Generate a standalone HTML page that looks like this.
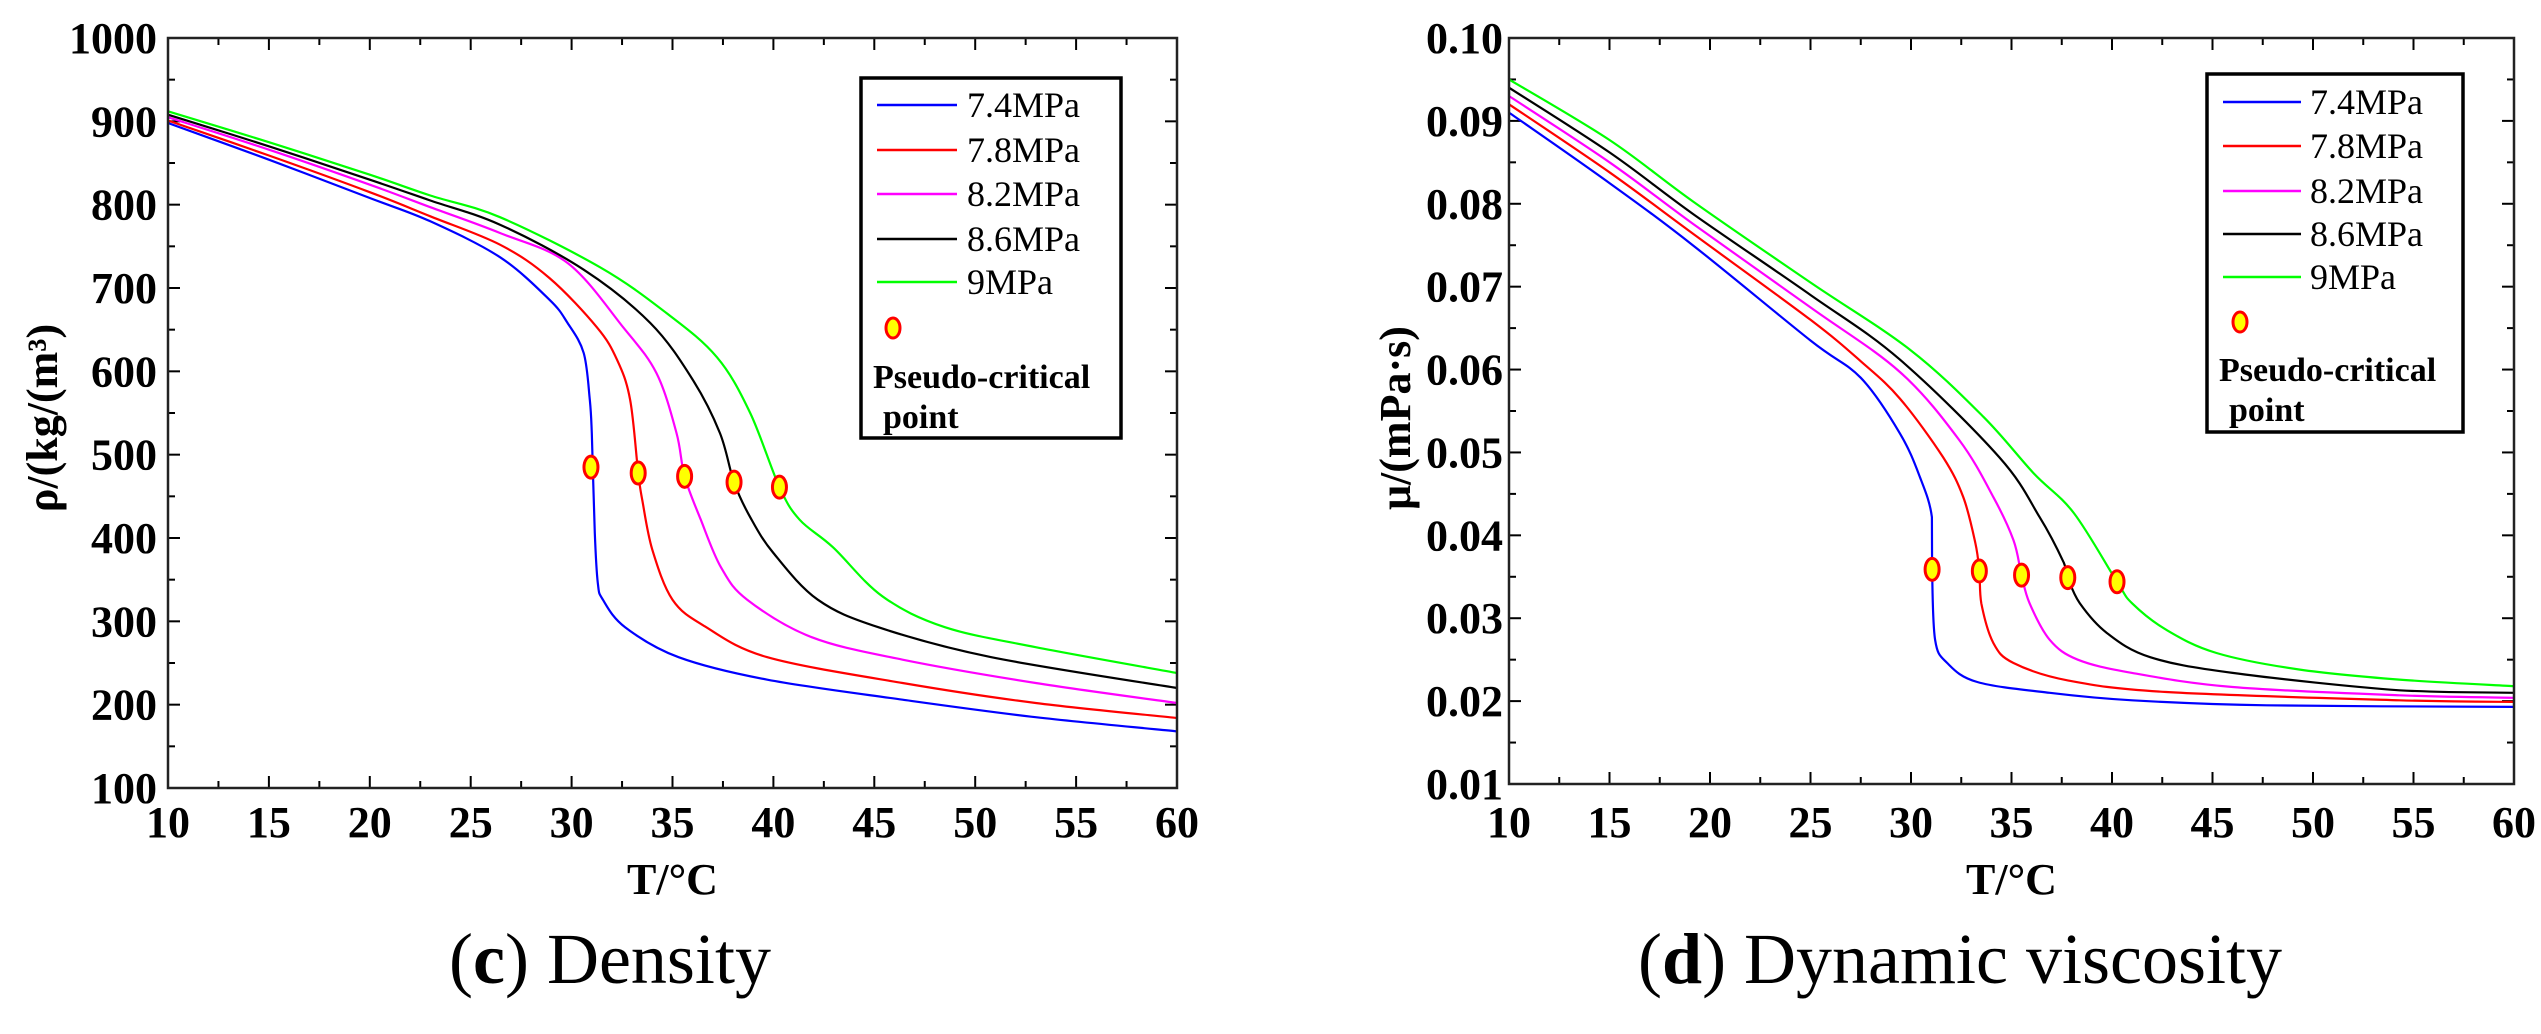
<!DOCTYPE html>
<html>
<head>
<meta charset="utf-8">
<style>
  html,body{margin:0;padding:0;background:#fff;}
  svg{display:block;}
  text{font-family:"Liberation Serif","DejaVu Serif",serif;fill:#000;}
</style>
</head>
<body>
<svg id="fig" width="2541" height="1034" viewBox="0 0 2541 1034" xmlns="http://www.w3.org/2000/svg">
  <rect x="0" y="0" width="2541" height="1034" fill="#fff"/>
  <g id="chartC"></g>
  <g id="chartD"></g>
  <text x="610" y="983" font-size="72" text-anchor="middle">(<tspan font-weight="bold">c</tspan>) Density</text>
  <text x="1960" y="983" font-size="72" text-anchor="middle">(<tspan font-weight="bold">d</tspan>) Dynamic viscosity</text>
</svg>
<script>
// ---------- Data: density chart (c) ----------
const seriesLabels = ["7.4MPa","7.8MPa","8.2MPa","8.6MPa","9MPa"];
const seriesColors = ["#0000ff","#ff0000","#ff00ff","#000000","#00ff00"];

const rhoT_74 = [10,15,20,23,26.45,28.9,29.8,30.6,30.9,31.0,31.15,31.3,31.55,32.65,35.3,39.7,46.4,53,60];
const rhoV_74 = [898,854,808,780,737,686,658,622,566,526,406,346,326,293,257,230,206,185,168];
const rhoT_78 = [10,15,20,23,26.45,28.9,31.25,32.25,32.9,33.3,33.5,34.0,35.0,36.6,39.7,46.4,53,60];
const rhoV_78 = [901,859,815,786,752,712,653,614,566,478,446,386,326,294,257,226,202,184];
const rhoT_82 = [10,15,20,23,26.45,29.8,32.55,34.2,35.2,35.6,36.4,37.4,38.7,41.9,46.4,53,60];
const rhoV_82 = [905,866,824,797,766,730,653,598,526,474,422,365,326,281,254,226,202];
const rhoT_86 = [10,15,20,23,26.45,30.6,33.9,36.0,37.35,38.05,38.85,40.0,42.2,45.2,50.8,60];
const rhoV_86 = [908,870,830,805,776,722,658,590,526,467,425,382,326,293,257,220];
const rhoT_90 = [10,15,20,23,26.45,31.4,34.7,37.2,38.85,40.3,41.3,42.95,45.4,48.5,53,60];
const rhoV_90 = [912,875,836,811,785,725,670,617,550,461,422,389,330,293,269,238];
const rhoPcT = [30.96,33.3,35.6,38.05,40.3];
const rhoPcV = [485,478,474,467,461];
const rhoYTicks = [100,200,300,400,500,600,700,800,900,1000];
const xTicks = [10,15,20,25,30,35,40,45,50,55,60];

// ---------- Data: viscosity chart (d) ----------
const muT_74 = [10,15,19.2,25,27.5,29.45,30.45,31.04,31.05,31.2,31.8,33.3,36.9,41,47.7,60];
const muV_74 = [0.091,0.0825,0.0749,0.0635,0.059,0.0523,0.047,0.0422,0.0359,0.0274,0.0246,0.0223,0.021,0.0201,0.0195,0.0193];
const muT_78 = [10,15,19.2,25,27.5,29.45,31.6,32.6,33.2,33.4,33.5,34.1,35.1,37.8,42.7,54.3,60];
const muV_78 = [0.092,0.0838,0.0763,0.066,0.061,0.0565,0.0494,0.0446,0.0391,0.0357,0.0318,0.027,0.0246,0.0225,0.0211,0.0201,0.0199];
const muT_82 = [10,15,19.2,25,29.45,32.4,34.1,35.1,35.5,35.9,36.9,38.3,41,46,54.3,60];
const muV_82 = [0.093,0.085,0.0775,0.0675,0.0597,0.0515,0.0446,0.0394,0.0352,0.0318,0.0274,0.025,0.0234,0.0217,0.0207,0.0204];
const muT_86 = [10,15,19.2,25,29.45,34.4,36.4,37.6,37.8,38.4,39.75,41.9,46,54.3,60];
const muV_86 = [0.094,0.0862,0.0787,0.069,0.0612,0.0494,0.0422,0.0367,0.0349,0.0318,0.0282,0.0253,0.0234,0.0213,0.021];
const muT_90 = [10,15,19.2,25,29.95,33.6,36.1,38.1,40.25,41,42.7,45.2,49.35,54.3,60];
const muV_90 = [0.095,0.0877,0.0802,0.0705,0.0624,0.0543,0.0475,0.0427,0.0344,0.0318,0.0286,0.0258,0.0238,0.0226,0.0218];
const muPcT = [31.05,33.4,35.5,37.8,40.25];
const muPcV = [0.0359,0.0357,0.0352,0.0349,0.0344];
const muYTicks = [0.01,0.02,0.03,0.04,0.05,0.06,0.07,0.08,0.09,0.10];

const NS = "http://www.w3.org/2000/svg";
function mk(tag, attrs, parent){
  const e = document.createElementNS(NS, tag);
  for (const k in attrs) e.setAttribute(k, attrs[k]);
  parent.appendChild(e);
  return e;
}
function clamp(v, a, b){ const lo = Math.min(a,b), hi = Math.max(a,b); return Math.max(lo, Math.min(hi, v)); }
function smoothPath(P){
  let d = "M" + P[0][0].toFixed(1) + "," + P[0][1].toFixed(1);
  for (let i = 0; i < P.length - 1; i++) {
    const p0 = P[Math.max(0, i-1)], p1 = P[i], p2 = P[i+1], p3 = P[Math.min(P.length-1, i+2)];
    let c1x = p1[0] + (p2[0]-p0[0])/6, c1y = p1[1] + (p2[1]-p0[1])/6;
    let c2x = p2[0] - (p3[0]-p1[0])/6, c2y = p2[1] - (p3[1]-p1[1])/6;
    c1x = clamp(c1x, p1[0], p2[0]); c2x = clamp(c2x, p1[0], p2[0]);
    c1y = clamp(c1y, p1[1], p2[1]); c2y = clamp(c2y, p1[1], p2[1]);
    d += "C" + c1x.toFixed(1) + "," + c1y.toFixed(1) + " " + c2x.toFixed(1) + "," + c2y.toFixed(1) + " " + p2[0].toFixed(1) + "," + p2[1].toFixed(1);
  }
  return d;
}

function drawChart(cfg){
  const g = document.getElementById(cfg.id);
  const X = t => cfg.x0 + (t - 10) / 50 * (cfg.x1 - cfg.x0);
  const Y = v => cfg.yb - (v - cfg.vmin) / (cfg.vmax - cfg.vmin) * (cfg.yb - cfg.yt);

  for (let i = 0; i < xTicks.length; i++) {
    const t = xTicks[i];
    const x = X(t);
    const tb = mk("line", {x1:x, y1:cfg.yb, x2:x, y2:cfg.yb-12, stroke:"#000", "stroke-width":2}, g);
    
    
    const tt = mk("line", {x1:x, y1:cfg.yt, x2:x, y2:cfg.yt+12, stroke:"#000", "stroke-width":2}, g);
    
    
    if (i < xTicks.length - 1) {
      const xm = X(t + 2.5);
      const mb = mk("line", {x1:xm, y1:cfg.yb, x2:xm, y2:cfg.yb-7, stroke:"#000", "stroke-width":2}, g);
      
      
      const mt = mk("line", {x1:xm, y1:cfg.yt, x2:xm, y2:cfg.yt+7, stroke:"#000", "stroke-width":2}, g);
      
      
    }
    const lab = mk("text", {x:x, y:837, "font-size":44, "font-weight":"bold", "text-anchor":"middle"}, g);
    lab.textContent = String(t);
    
    
  }
  const yt = cfg.yTicks;
  for (let i = 0; i < yt.length; i++) {
    const v = yt[i];
    const y = Y(v);
    const l = mk("line", {x1:cfg.x0, y1:y, x2:cfg.x0+12, y2:y, stroke:"#000", "stroke-width":2}, g);
    
    
    const r = mk("line", {x1:cfg.x1, y1:y, x2:cfg.x1-12, y2:y, stroke:"#000", "stroke-width":2}, g);
    
    
    if (i < yt.length - 1) {
      const ym = Y((v + yt[i+1]) / 2);
      const lm = mk("line", {x1:cfg.x0, y1:ym, x2:cfg.x0+7, y2:ym, stroke:"#000", "stroke-width":2}, g);
      
      
      const rm = mk("line", {x1:cfg.x1, y1:ym, x2:cfg.x1-7, y2:ym, stroke:"#000", "stroke-width":2}, g);
      
      
    }
    const lab = mk("text", {x:cfg.labelRight, y:y+15, "font-size":44, "font-weight":"bold", "text-anchor":"end"}, g);
    lab.textContent = cfg.fmt(v);
    
    
  }

  for (let s = 0; s < cfg.series.length; s++) {
    const T = cfg.series[s][0], V = cfg.series[s][1];
    const pts = [];
    for (let i = 0; i < T.length; i++) pts.push([X(T[i]), Y(V[i])]);
    const p = mk("path", {d:smoothPath(pts), fill:"none", stroke:seriesColors[s], "stroke-width":2.2, "stroke-linejoin":"round"}, g);
    
    
  }
  for (let i = 0; i < cfg.pcT.length; i++) {
    const e = mk("ellipse", {cx:X(cfg.pcT[i]), cy:Y(cfg.pcV[i]), rx:7, ry:11, fill:"#ffff00", stroke:"#ff0000", "stroke-width":3}, g);
    
    
  }

  const fr = mk("rect", {x:cfg.x0, y:cfg.yt, width:cfg.x1-cfg.x0, height:cfg.yb-cfg.yt, fill:"none", stroke:"#222", "stroke-width":2.5}, g);
  
  

  const xt = mk("text", {x:(cfg.x0+cfg.x1)/2, y:894, "font-size":44, "font-weight":"bold", "text-anchor":"middle"}, g);
  xt.textContent = "T/°C";
  
  
  const ytl = mk("text", {x:0, y:0, "font-size":44, "font-weight":"bold", "text-anchor":"middle", transform:"translate(" + (cfg.yTitleX+15) + ",418) rotate(-90)"}, g);
  ytl.textContent = cfg.yTitle;
  
  

  const L = cfg.legend;
  const lg = mk("g", {}, g);
  
  
  const lb = mk("rect", {x:L.x, y:L.y, width:L.w, height:L.h, fill:"#fff", stroke:"#000", "stroke-width":3.5}, lg);
  
  
  for (let s = 0; s < seriesLabels.length; s++) {
    const ry = L.rows[s];
    const ln = mk("line", {x1:L.lx0, y1:ry, x2:L.lx1, y2:ry, stroke:seriesColors[s], "stroke-width":2.5}, lg);
    
    
    const tx = mk("text", {x:L.tx, y:ry+12, "font-size":36}, lg);
    tx.textContent = seriesLabels[s];
    
    
  }
  const me = mk("ellipse", {cx:L.mx, cy:L.my, rx:7, ry:10, fill:"#ffff00", stroke:"#ff0000", "stroke-width":3}, lg);
  
  
  const p1 = mk("text", {x:L.px, y:L.p1y, "font-size":34, "font-weight":"bold"}, lg);
  p1.textContent = "Pseudo-critical";
  
  
  const p2 = mk("text", {x:L.px+10, y:L.p2y, "font-size":34, "font-weight":"bold"}, lg);
  p2.textContent = "point";
  
  
}

drawChart({
  id:"chartC", x0:168, x1:1177, yt:38, yb:788, vmin:100, vmax:1000,
  yTicks:rhoYTicks, fmt:v => String(v), labelRight:157, yTitleX:42, yTitle:"ρ/(kg/(m³)",
  series:[[rhoT_74,rhoV_74],[rhoT_78,rhoV_78],[rhoT_82,rhoV_82],[rhoT_86,rhoV_86],[rhoT_90,rhoV_90]],
  pcT:rhoPcT, pcV:rhoPcV,
  legend:{x:861,y:78,w:260,h:360,rows:[105,150,194,239,282],lx0:877,lx1:957,tx:967,mx:893,my:328,px:873,p1y:388,p2y:428}
});
drawChart({
  id:"chartD", x0:1509, x1:2514, yt:38, yb:784, vmin:0.01, vmax:0.10,
  yTicks:muYTicks, fmt:v => v.toFixed(2), labelRight:1503, yTitleX:1395, yTitle:"μ/(mPa·s)",
  series:[[muT_74,muV_74],[muT_78,muV_78],[muT_82,muV_82],[muT_86,muV_86],[muT_90,muV_90]],
  pcT:muPcT, pcV:muPcV,
  legend:{x:2207,y:74,w:256,h:358,rows:[102,146,191,234,277],lx0:2223,lx1:2301,tx:2310,mx:2240,my:322,px:2219,p1y:381,p2y:421}
});
</script>
</body>
</html>
